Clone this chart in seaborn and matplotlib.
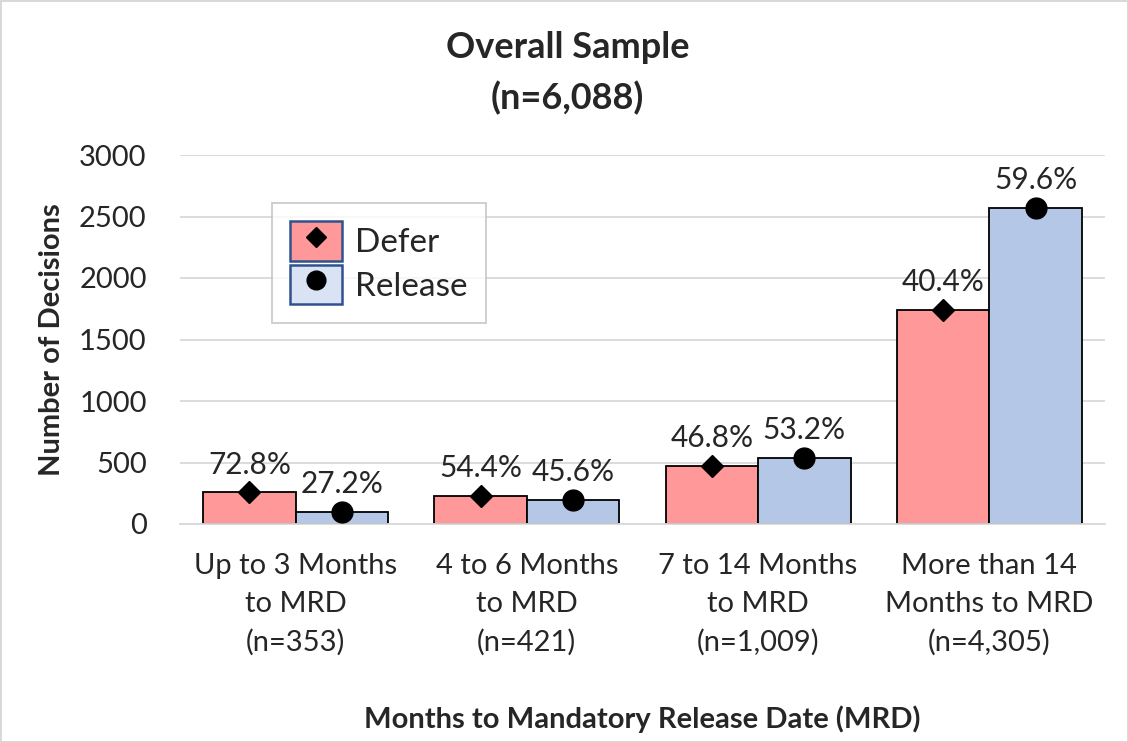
import matplotlib
matplotlib.use('Agg')
import matplotlib.pyplot as plt
from matplotlib.lines import Line2D
from matplotlib.patches import Patch
import pandas as pd
import seaborn as sns

groups = ['Up to 3 Months\nto MRD\n(n=353)',
          '4 to 6 Months\nto MRD\n(n=421)',
          '7 to 14 Months\nto MRD\n(n=1,009)',
          'More than 14\nMonths to MRD\n(n=4,305)']
defer_counts = [257, 229, 472, 1739]
release_counts = [96, 192, 537, 2566]
defer_pct = ['72.8%', '54.4%', '46.8%', '40.4%']
release_pct = ['27.2%', '45.6%', '53.2%', '59.6%']
decisions = ['Defer', 'Release']

bar_colors = {'Defer': '#FF9999', 'Release': '#B4C7E7'}
legend_colors = {'Defer': '#FF9999', 'Release': '#DAE3F3'}
markers = {'Defer': 'D', 'Release': 'o'}
marker_sizes = {'Defer': 11, 'Release': 15}

df = pd.DataFrame({
    'group': groups * 2,
    'decision': ['Defer'] * 4 + ['Release'] * 4,
    'count': defer_counts + release_counts,
    'pct': defer_pct + release_pct,
})

sns.set_style('white')
plt.rcParams['font.family'] = ['Lato', 'DejaVu Sans']

fig = plt.figure(figsize=(11.28, 7.42), dpi=100, edgecolor='#D9D9D9', linewidth=2)
ax = fig.add_axes([180 / 1128, 1 - 524 / 742, 925 / 1128, 369 / 742])

sns.barplot(data=df, x='group', y='count', hue='decision', hue_order=decisions,
            palette=bar_colors, saturation=1, width=0.8, edgecolor='black',
            linewidth=1.3, legend=False, ax=ax, zorder=2)

# markers and percent labels on top of each bar
for dec, cont in zip(decisions, ax.containers):
    labels = df[df['decision'] == dec]['pct'].tolist()
    for bar, lab in zip(cont, labels):
        cx = bar.get_x() + bar.get_width() / 2
        top = bar.get_height()
        ax.plot(cx, top, marker=markers[dec], color='black',
                markersize=marker_sizes[dec], linestyle='none', zorder=4,
                clip_on=False)
        ax.annotate(lab, (cx, top), xytext=(0, 10), textcoords='offset points',
                    ha='center', va='bottom', fontsize=21.5)

ax.set_ylim(0, 3000)
ax.set_xlim(-0.5, 3.5)
ax.set_yticks(range(0, 3001, 500))
ax.yaxis.grid(True, color='#D9D9D9', linewidth=1.3, zorder=0)
ax.set_axisbelow(True)
for s in ['top', 'right', 'left']:
    ax.spines[s].set_visible(False)
ax.spines['bottom'].set_color('#D9D9D9')
ax.spines['bottom'].set_linewidth(1.3)
ax.tick_params(axis='both', length=0, labelsize=21)
ax.tick_params(axis='y', pad=24)
ax.tick_params(axis='x', pad=21)
for t in ax.get_xticklabels():
    t.set_linespacing(1.55)

ax.set_xlabel('Months to Mandatory Release Date (MRD)', fontsize=21,
              fontweight='bold', labelpad=36)
ax.set_ylabel('Number of Decisions', fontsize=21, fontweight='bold', labelpad=10)

fig.text(0.503, 1 - 48 / 742, 'Overall Sample', ha='center', va='center',
         fontsize=26, fontweight='bold')
fig.text(0.503, 1 - 98 / 742, '(n=6,088)', ha='center', va='center',
         fontsize=26, fontweight='bold')

handles = [(Patch(facecolor=legend_colors[d], edgecolor='#2F528F', linewidth=1.8),
            Line2D([], [], marker=markers[d], color='black', linestyle='none',
                   markersize=marker_sizes[d] * 0.9))
           for d in decisions]
leg = ax.legend(handles, decisions, loc='upper left',
                bbox_to_anchor=((272 - 180) / 925, (524 - 203) / 369),
                fontsize=24, frameon=True, fancybox=False, edgecolor='#BFBFBF',
                handlelength=1.55, handleheight=1.45, borderpad=0.55,
                labelspacing=0.12, handletextpad=0.4, borderaxespad=0)
leg.get_frame().set_linewidth(1.3)

fig.savefig('out.png', dpi=100)
